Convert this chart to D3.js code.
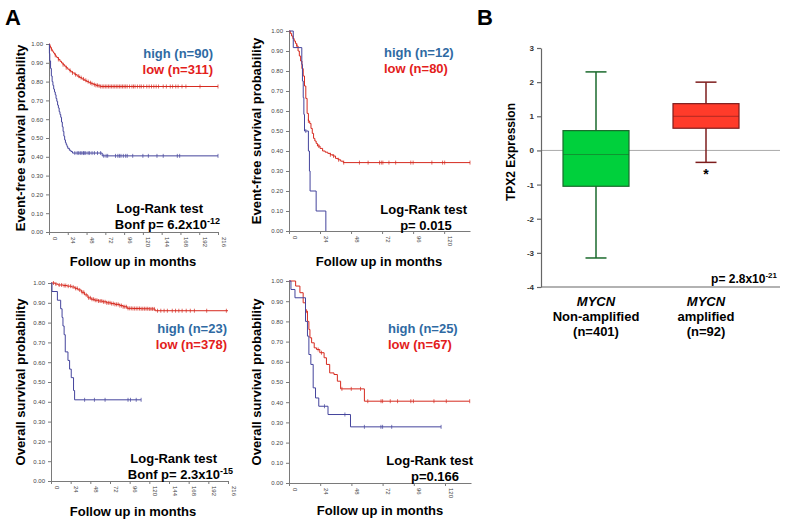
<!DOCTYPE html>
<html>
<head>
<meta charset="utf-8">
<script src="https://cdn.jsdelivr.net/npm/d3@7"></script>
<style>
  body { margin: 0; background: #fff; }
  text { font-family: "Liberation Sans", Arial, sans-serif; }
</style>
</head>
<body>
<div id="chart"></div>
<script>
// ---------------- data ----------------
var kmYTicks = [0, 0.1, 0.2, 0.3, 0.4, 0.5, 0.6, 0.7, 0.8, 0.9, 1.0];
var xTicksLong = [0, 24, 48, 72, 96, 120, 144, 168, 192, 216];
var xTicksShort = [0, 24, 48, 72, 96, 120];

// EFS, all patients
var efsAllLowT = [0, 1, 2, 3, 4, 5, 6, 7, 8, 9, 10, 12, 14, 16, 18, 20, 22, 24, 26, 28, 30, 33, 36, 39, 42, 45, 48, 51, 54, 57, 60, 63, 66];
var efsAllLowS = [1, 0.99, 0.98, 0.972, 0.965, 0.958, 0.952, 0.946, 0.94, 0.934, 0.928, 0.918, 0.908, 0.899, 0.89, 0.882, 0.874, 0.866, 0.859, 0.852, 0.846, 0.837, 0.829, 0.821, 0.814, 0.807, 0.80, 0.794, 0.789, 0.784, 0.78, 0.777, 0.774];
var efsAllLowCens = [3, 8, 12, 18, 22, 27, 30, 34, 38, 41, 44, 47, 50, 53, 55, 58, 60, 62, 64, 66, 68, 70, 72, 74, 76, 78, 80, 82, 84, 86, 88, 90, 92, 94, 96, 98, 100, 103, 106, 108, 110, 113, 116, 118, 121, 125, 128, 131, 134, 137, 140, 146, 150, 155, 158, 162, 165, 170, 175, 193, 216];
var efsAllHighT = [0, 0.5, 1, 2, 3, 4, 5, 6, 7, 8, 9, 10, 11, 12, 13, 14, 15, 16, 17, 18, 19, 20, 21, 22, 23, 24, 26, 28, 30, 68];
var efsAllHighS = [1, 0.95, 0.91, 0.87, 0.83, 0.80, 0.78, 0.76, 0.745, 0.73, 0.71, 0.695, 0.675, 0.66, 0.64, 0.625, 0.61, 0.585, 0.56, 0.535, 0.51, 0.49, 0.475, 0.465, 0.455, 0.445, 0.435, 0.428, 0.42, 0.405];
var efsAllHighCens = [33, 36, 38, 40, 42, 44, 45, 47, 50, 52, 55, 58, 62, 66, 70, 73, 75, 85, 88, 90, 92, 95, 98, 100, 107, 120, 127, 138, 146, 164, 167, 216];

// EFS, MYCN amplified
var efsAmpLowT = [0, 1, 2, 3, 4, 5, 6, 7, 8, 9, 10, 11, 12, 13, 14, 15, 16, 17, 18, 19, 20, 21, 22, 24, 26, 28, 30, 32, 34, 36, 38, 40, 42];
var efsAmpLowS = [1, 0.988, 0.975, 0.962, 0.95, 0.938, 0.925, 0.9, 0.875, 0.85, 0.812, 0.775, 0.725, 0.663, 0.588, 0.55, 0.538, 0.513, 0.488, 0.463, 0.45, 0.438, 0.425, 0.413, 0.40, 0.394, 0.388, 0.381, 0.375, 0.363, 0.356, 0.349, 0.342];
var efsAmpLowCens = [6, 15, 23, 32, 34.5, 38.4, 42.3, 54.5, 61.2, 70, 71.4, 72.6, 77.3, 82.5, 94.2, 96, 110.5, 118.8, 120.4, 140];
var efsAmpHighT = [0, 3.3, 9.9, 10.4, 11, 11.5, 12, 15, 15.8, 16.3, 21, 28.5];
var efsAmpHighS = [1, 0.917, 0.833, 0.75, 0.667, 0.583, 0.50, 0.40, 0.30, 0.20, 0.10, 0];
var efsAmpHighCens = [13];

// OS, all patients
var osAllLowT = [0, 5, 8.5, 15, 20, 25, 29, 33, 37, 41, 45, 49, 53, 58, 63, 68, 73, 78, 84, 88, 93, 100, 110, 120, 127];
var osAllLowS = [1, 0.995, 0.99, 0.987, 0.984, 0.98, 0.973, 0.965, 0.953, 0.94, 0.925, 0.918, 0.913, 0.909, 0.905, 0.90, 0.896, 0.892, 0.886, 0.88, 0.872, 0.871, 0.87, 0.869, 0.86];
var osAllLowCens = [3, 6, 10, 13, 16, 18, 21, 24, 27, 30, 32, 35, 38, 40, 43, 46, 48, 50, 52, 54, 56, 58, 60, 62, 64, 66, 68, 70, 72, 74, 76, 78, 80, 82, 84, 86, 88, 90, 92, 94, 96, 98, 100, 102, 104, 106, 108, 110, 112, 114, 116, 118, 120, 122, 124, 126, 130, 134, 138, 142, 148, 152, 156, 160, 165, 170, 175, 190, 214];
var osAllHighT = [0, 1.2, 7.8, 11.8, 13.5, 14.6, 16, 17.4, 20.7, 22.7, 24.7, 27.5, 28.8];
var osAllHighS = [1, 0.957, 0.913, 0.870, 0.826, 0.783, 0.739, 0.652, 0.609, 0.565, 0.522, 0.457, 0.41];
var osAllHighCens = [41, 53, 66, 94, 97, 104, 110];

// OS, MYCN amplified
var osAmpLowT = [0, 5.1, 8.4, 10.9, 12.7, 14.2, 15.3, 16.1, 17.4, 19.4, 21.2, 23.7, 27, 28.8, 31.3, 34.6, 37.2, 39.7, 58];
var osAmpLowS = [1, 0.975, 0.942, 0.892, 0.851, 0.80, 0.76, 0.719, 0.694, 0.669, 0.661, 0.645, 0.62, 0.587, 0.545, 0.537, 0.504, 0.466, 0.405];
var osAmpLowCens = [13.4, 22.4, 25, 40.7, 47.9, 55, 60.6, 70.8, 72, 77.9, 83.5, 93.7, 95.7, 111.5, 121, 139];
var osAmpHighT = [0, 1.5, 4.6, 12.7, 14.2, 15.3, 16.8, 18.6, 20.4, 22.9, 30, 47.3];
var osAmpHighS = [1, 0.958, 0.917, 0.80, 0.727, 0.636, 0.587, 0.471, 0.421, 0.38, 0.339, 0.278];
var osAmpHighCens = [27.3, 43, 58, 70.7, 72, 79, 117];

// Box plot (TPX2 expression by MYCN status)
var boxGroups = ["Non-amplified", "amplified"];
var boxN = ["(n=401)", "(n=92)"];
var boxLow = [-3.15, -0.35];
var boxQ1 = [-1.05, 0.65];
var boxMedian = [-0.12, 1.0];
var boxQ3 = [0.58, 1.37];
var boxHigh = [2.3, 2.0];
var boxOutlier = [null, -0.62];
var boxYTicks = [-4, -3, -2, -1, 0, 1, 2, 3];

// ---------------- drawing ----------------
var svg = d3.select("#chart").append("svg")
  .attr("width", 789)
  .attr("height", 524);

var blueCurve = "#44449c", redCurve = "#d62a1f";
var blueText = "#2f6aa3", redText = "#e3201b";

function survAt(t, times, surv) {
  var s = surv[0];
  for (var i = 0; i < times.length; i++) {
    if (times[i] <= t) s = surv[i];
  }
  return s;
}

function drawKM(p) {
  var x = d3.scaleLinear().domain([0, p.xMax]).range([p.left, p.right]);
  var y = d3.scaleLinear().domain([0, 1]).range([p.bottom, p.top]);
  var g = svg.append("g");

  var leftAxis = d3.axisLeft(y).tickValues(kmYTicks).tickFormat(d3.format(".2f")).tickSize(3).tickSizeOuter(0);
  var yAx = g.append("g").attr("transform", `translate(${p.left},0)`).call(leftAxis);
  var bottomAxis = d3.axisBottom(x).tickValues(p.xTicks).tickSize(3).tickSizeOuter(0);
  var xAx = g.append("g").attr("transform", `translate(0,${p.bottom})`).call(bottomAxis);
  xAx.selectAll("text")
    .attr("transform", "rotate(90)")
    .attr("x", 5).attr("y", -3)
    .attr("dy", 0)
    .style("text-anchor", "start");
  [yAx, xAx].forEach(function(a) {
    a.selectAll("path, line").attr("stroke", "#7a7a7a");
    a.selectAll("text").attr("fill", "#444").style("font-size", "6px");
  });

  var line = d3.line()
    .x(d => x(d[0]))
    .y(d => y(d[1]))
    .curve(d3.curveStepAfter);

  p.series.forEach(function(s) {
    var pts = s.t.map((t, i) => [t, s.s[i]]);
    if (s.end != null) pts.push([s.end, s.s[s.s.length - 1]]);
    g.append("path")
      .attr("d", line(pts))
      .attr("fill", "none")
      .attr("stroke", s.color)
      .attr("stroke-width", 1);
    g.selectAll(null)
      .data(s.cens)
      .enter()
      .append("line")
      .attr("x1", d => x(d)).attr("x2", d => x(d))
      .attr("y1", d => y(survAt(d, s.t, s.s)) - 2)
      .attr("y2", d => y(survAt(d, s.t, s.s)) + 2)
      .attr("stroke", s.color)
      .attr("stroke-width", 0.7);
  });

  // legend
  g.append("text").attr("x", p.legX).attr("y", p.legY)
    .attr("text-anchor", p.legAnchor)
    .style("font-size", "13px").style("font-weight", "bold")
    .attr("fill", blueText).text(p.highLabel);
  g.append("text").attr("x", p.legX).attr("y", p.legY + 16)
    .attr("text-anchor", p.legAnchor)
    .style("font-size", "13px").style("font-weight", "bold")
    .attr("fill", redText).text(p.lowLabel);

  // log-rank text
  g.append("text").attr("x", p.lrX).attr("y", p.lrY)
    .attr("text-anchor", p.lrAnchor)
    .style("font-size", "13px").style("font-weight", "bold")
    .text("Log-Rank test");
  var pt = g.append("text").attr("x", p.pX).attr("y", p.lrY + 16)
    .attr("text-anchor", p.pAnchor)
    .style("font-size", "13px").style("font-weight", "bold")
    .text(p.pText);
  if (p.pSup) {
    pt.append("tspan").attr("dy", -5).style("font-size", "9px").text(p.pSup);
  }

  // axis titles
  g.append("text")
    .attr("transform", `translate(${p.yLabX},${(p.top + p.bottom) / 2}) rotate(-90)`)
    .attr("text-anchor", "middle")
    .style("font-size", "13px").style("font-weight", "bold")
    .text(p.yLabel);
  g.append("text")
    .attr("x", p.xLabX).attr("y", p.xLabY)
    .attr("text-anchor", "middle")
    .style("font-size", "13px").style("font-weight", "bold")
    .text("Follow up in months");
}

drawKM({
  left: 49, right: 218, top: 44, bottom: 232, xMax: 216, xTicks: xTicksLong,
  series: [
    { t: efsAllLowT, s: efsAllLowS, cens: efsAllLowCens, end: 216, color: redCurve },
    { t: efsAllHighT, s: efsAllHighS, cens: efsAllHighCens, end: 216, color: blueCurve }
  ],
  legX: 213, legY: 58, legAnchor: "end", highLabel: "high (n=90)", lowLabel: "low (n=311)",
  lrX: 203, lrY: 213, lrAnchor: "end", pX: 220, pAnchor: "end", pText: "Bonf p= 6.2x10", pSup: "-12",
  yLabel: "Event-free survival probability", yLabX: 25, xLabX: 133, xLabY: 266
});

drawKM({
  left: 289, right: 470, top: 31, bottom: 231, xMax: 140, xTicks: xTicksShort,
  series: [
    { t: efsAmpLowT, s: efsAmpLowS, cens: efsAmpLowCens, end: 140, color: redCurve },
    { t: efsAmpHighT, s: efsAmpHighS, cens: efsAmpHighCens, end: null, color: blueCurve }
  ],
  legX: 384, legY: 57, legAnchor: "start", highLabel: "high (n=12)", lowLabel: "low (n=80)",
  lrX: 467, lrY: 214, lrAnchor: "end", pX: 426, pAnchor: "middle", pText: "p= 0.015", pSup: null,
  yLabel: "Event-free survival probability", yLabX: 261, xLabX: 379, xLabY: 266
});

drawKM({
  left: 51, right: 228, top: 283, bottom: 481, xMax: 216, xTicks: xTicksLong,
  series: [
    { t: osAllLowT, s: osAllLowS, cens: osAllLowCens, end: 216, color: redCurve },
    { t: osAllHighT, s: osAllHighS, cens: osAllHighCens, end: 110, color: blueCurve }
  ],
  legX: 227, legY: 333, legAnchor: "end", highLabel: "high (n=23)", lowLabel: "low (n=378)",
  lrX: 217, lrY: 463, lrAnchor: "end", pX: 233, pAnchor: "end", pText: "Bonf p= 2.3x10", pSup: "-15",
  yLabel: "Overall survival probability", yLabX: 25, xLabX: 133, xLabY: 516
});

drawKM({
  left: 289, right: 471, top: 281, bottom: 483, xMax: 140, xTicks: xTicksShort,
  series: [
    { t: osAmpLowT, s: osAmpLowS, cens: osAmpLowCens, end: 139, color: redCurve },
    { t: osAmpHighT, s: osAmpHighS, cens: osAmpHighCens, end: 117, color: blueCurve }
  ],
  legX: 388, legY: 333, legAnchor: "start", highLabel: "high (n=25)", lowLabel: "low (n=67)",
  lrX: 473, lrY: 465, lrAnchor: "end", pX: 435, pAnchor: "middle", pText: "p=0.166", pSup: null,
  yLabel: "Overall survival probability", yLabX: 261, xLabX: 380, xLabY: 515
});

// panel letters
svg.append("text").attr("x", 5).attr("y", 25)
  .style("font-size", "22px").style("font-weight", "bold").text("A");
svg.append("text").attr("x", 477).attr("y", 25)
  .style("font-size", "22px").style("font-weight", "bold").text("B");

// ---------------- box plot ----------------
var by = d3.scaleLinear().domain([-4, 3]).range([287, 48]);
var bx = d3.scalePoint().domain(boxGroups).range([596, 706]);
var bg = svg.append("g");

bg.append("line").attr("x1", 541).attr("x2", 780)
  .attr("y1", by(0)).attr("y2", by(0))
  .attr("stroke", "#aaa").attr("stroke-width", 1);

var bLeft = d3.axisLeft(by).tickValues(boxYTicks).tickFormat(d => String(d)).tickSize(4).tickSizeOuter(0);
var bAx = bg.append("g").attr("transform", "translate(541,0)").call(bLeft);
bAx.selectAll("path, line").attr("stroke", "#666").attr("stroke-width", 1.2);
bAx.selectAll("text").attr("fill", "#333").style("font-size", "8px").style("font-weight", "bold");
bg.append("line").attr("x1", 541).attr("x2", 780)
  .attr("y1", by(-4)).attr("y2", by(-4))
  .attr("stroke", "#666").attr("stroke-width", 1.2);

var boxFill = ["#00d03c", "#ff3b2a"];
var boxStroke = ["#1a6a2c", "#7d1c1c"];
var boxW = 66, capW = 21;

boxGroups.forEach(function(grp, i) {
  var cx = bx(grp);
  bg.append("line").attr("x1", cx).attr("x2", cx)
    .attr("y1", by(boxHigh[i])).attr("y2", by(boxLow[i]))
    .attr("stroke", boxStroke[i]).attr("stroke-width", 1.5);
  [boxHigh[i], boxLow[i]].forEach(function(v) {
    bg.append("line").attr("x1", cx - capW / 2).attr("x2", cx + capW / 2)
      .attr("y1", by(v)).attr("y2", by(v))
      .attr("stroke", boxStroke[i]).attr("stroke-width", 1.5);
  });
  bg.append("rect")
    .attr("x", cx - boxW / 2).attr("width", boxW)
    .attr("y", by(boxQ3[i])).attr("height", by(boxQ1[i]) - by(boxQ3[i]))
    .attr("fill", boxFill[i]).attr("stroke", boxStroke[i]).attr("stroke-width", 1.2);
  bg.append("line").attr("x1", cx - boxW / 2).attr("x2", cx + boxW / 2)
    .attr("y1", by(boxMedian[i])).attr("y2", by(boxMedian[i]))
    .attr("stroke", boxStroke[i]).attr("stroke-opacity", 0.6).attr("stroke-width", 1);
  if (boxOutlier[i] != null) {
    bg.append("text").attr("x", cx).attr("y", by(boxOutlier[i]) + 7)
      .attr("text-anchor", "middle")
      .style("font-size", "14px").style("font-weight", "bold").text("*");
  }
  var lab = bg.append("text").attr("x", cx).attr("y", 306)
    .attr("text-anchor", "middle")
    .style("font-size", "13px").style("font-weight", "bold");
  lab.append("tspan").attr("x", cx).attr("dy", 0).style("font-style", "italic").text("MYCN");
  lab.append("tspan").attr("x", cx).attr("dy", 15).text(grp);
  lab.append("tspan").attr("x", cx).attr("dy", 15).text(boxN[i]);
});

bg.append("text")
  .attr("transform", "translate(515,152) rotate(-90)")
  .attr("text-anchor", "middle")
  .style("font-size", "12px").style("font-weight", "bold")
  .text("TPX2  Expression");

var pb = bg.append("text").attr("x", 777).attr("y", 283)
  .attr("text-anchor", "end")
  .style("font-size", "12px").style("font-weight", "bold")
  .text("p= 2.8x10");
pb.append("tspan").attr("dy", -5).style("font-size", "8px").text("-21");
</script>
</body>
</html>
